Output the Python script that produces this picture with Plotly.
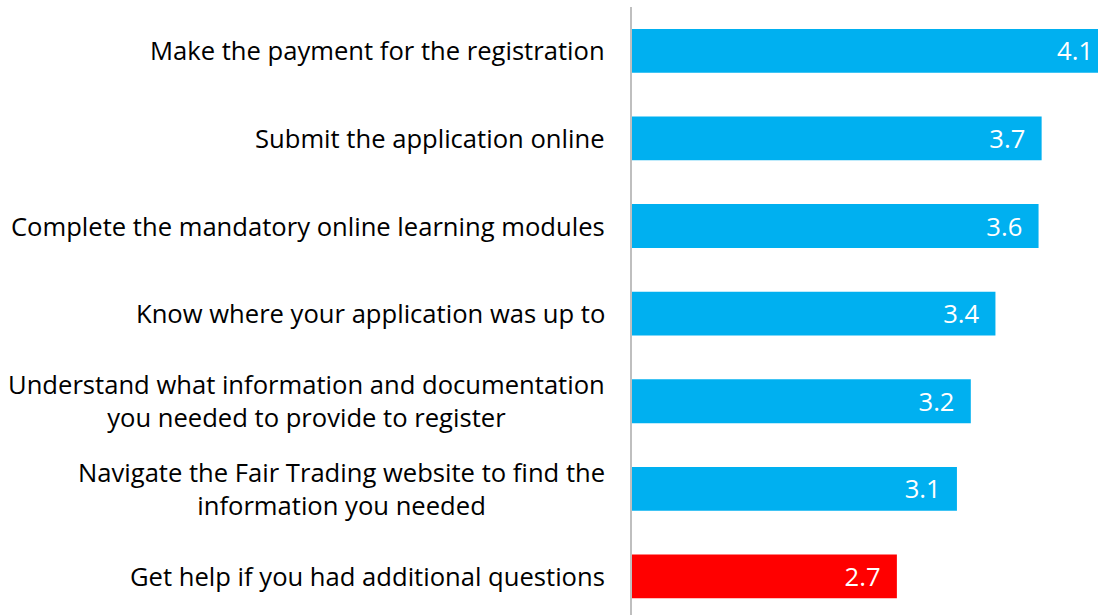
import plotly.graph_objects as go

categories = [
    "Make the payment for the registration",
    "Submit the application online",
    "Complete the mandatory online learning modules",
    "Know where your application was up to",
    "Understand what information and documentation<br>you needed to provide to register",
    "Navigate the Fair Trading website to find the<br>information you needed",
    "Get help if you had additional questions",
]
values = [4.1, 3.66, 3.64, 3.36, 3.2, 3.11, 2.72]
bar_colors = ["#00B0F0", "#00B0F0", "#00B0F0", "#00B0F0", "#00B0F0", "#00B0F0", "#FF0000"]

XMIN, XMAX = 1.0, 4.026
FONT = "Open Sans"
FSIZE = 25.6
PAD = "\u00a0\u00a0"

fig = go.Figure()
fig.add_trace(go.Bar(
    y=categories, x=values, orientation="h", width=0.5,
    marker=dict(color=bar_colors, line=dict(width=0)),
    text=[f"{v:.1f}{PAD}" for v in values],
    textposition="inside", insidetextanchor="end", textangle=0,
    insidetextfont=dict(family=FONT, size=FSIZE, color="#FFFFFF"),
    constraintext="none",
    hoverinfo="x+y",
))

annotations = []
for c in categories:
    annotations.append(dict(
        xref="paper", x=0, yref="y", y=c, xanchor="right", yanchor="middle",
        xshift=-25, text=c, showarrow=False, align="center",
        font=dict(family=FONT, size=FSIZE, color="#000000"),
    ))

fig.update_layout(
    width=1098, height=615,
    margin=dict(l=632, r=0, t=7, b=0),
    paper_bgcolor="white", plot_bgcolor="white",
    showlegend=False,
    uniformtext=dict(mode=False),
    xaxis=dict(range=[XMIN, XMAX], showticklabels=False, showgrid=False,
               zeroline=False, showline=False, ticks=""),
    yaxis=dict(range=[6.44, -0.5], showticklabels=False, showgrid=False,
               zeroline=False, showline=True, linecolor="#BFBFBF", linewidth=2,
               ticks=""),
    annotations=annotations,
    font=dict(family=FONT),
)

fig.write_html("out.html", config={"displayModeBar": False},
               post_script="document.body.style.margin='0';document.body.style.overflow='hidden';")
